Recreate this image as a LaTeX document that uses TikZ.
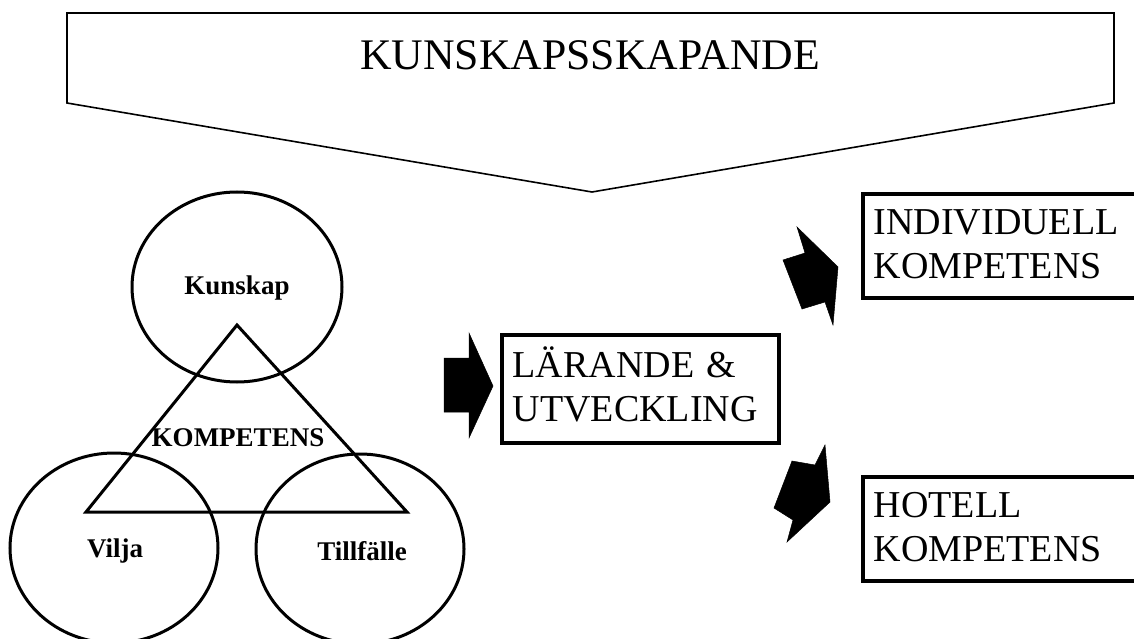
\documentclass[tikz,border=0pt]{standalone}
\usepackage{fontspec}
\setmainfont{Liberation Serif}
\usetikzlibrary{shapes.geometric}
\tikzset{
  ring/.style={ellipse, draw, line width=3pt, minimum width=210pt, minimum height=190pt, inner sep=0pt},
  tag/.style={font=\fontsize{27}{30}\selectfont\bfseries, inner sep=0pt},
  stagebox/.style={draw, line width=3.5pt, anchor=north west, align=left, inner xsep=11pt, inner ysep=0pt,
    font=\fontsize{38}{44}\selectfont, text width=300pt, text height=30pt, text depth=53pt},
  blockarrow/.style={fill=black, draw=black, line width=0.5pt, line join=miter},
}
\begin{document}
\begin{tikzpicture}[x=1pt,y=-1pt]
\useasboundingbox (0,0) rectangle (1134,639);
\clip (0,0) rectangle (1134,639);

% banner pointing down
\coordinate (b1) at (67,13);
\coordinate (b2) at (1114,13);
\coordinate (b3) at (1114,103);
\coordinate (b4) at (592,192);
\coordinate (b5) at (67,103);
\draw[line width=1.6pt, line join=miter] (b1) -- (b2) -- (b3) -- (b4) -- (b5) -- cycle;
\node[font=\fontsize{43.7}{50}\selectfont, inner sep=0pt] (title) at (590,55) {KUNSKAPSSKAPANDE};

% three circles of competence
\node[ring, minimum height=190pt] (kunskap) at (237,287) {};
\node[ring, minimum width=208pt] (vilja) at (114,548) {};
\node[ring, minimum width=208pt] (tillfalle) at (360,549) {};
\node[tag] at (237,288) {Kunskap};
\node[tag] at (115,551) {Vilja};
\node[tag] at (362,551) {Tillfälle};

% triangle
\coordinate (t1) at (237,325);
\coordinate (t2) at (407,512);
\coordinate (t3) at (86,512);
\draw[line width=3pt, line join=miter] (t1) -- (t2) -- (t3) -- cycle;
\node[tag] (komp) at (238,438) {KOMPETENS};

% stage boxes
\node[stagebox, text width=255pt, minimum height=108pt] (larande) at (500,333) {LÄRANDE \&\\UTVECKLING};
\node[stagebox, minimum height=104pt] (indiv) at (861,192) {INDIVIDUELL\\KOMPETENS};
\node[stagebox, minimum height=104pt] (hotell) at (861,475) {HOTELL\\KOMPETENS};

% block arrows
\draw[blockarrow] (444,358) -- (469,358) -- (469,333) -- (493,386) -- (469,438) -- (469,412) -- (444,412) -- cycle;
\draw[blockarrow] (797,227) -- (838,267) -- (833,325) -- (825,302) -- (802,309) -- (783,260) -- (805,253) -- cycle;
\draw[blockarrow] (825,445) -- (830,502) -- (787,542) -- (793,520) -- (774,508) -- (792,461) -- (815,465) -- cycle;
\end{tikzpicture}
\end{document}
